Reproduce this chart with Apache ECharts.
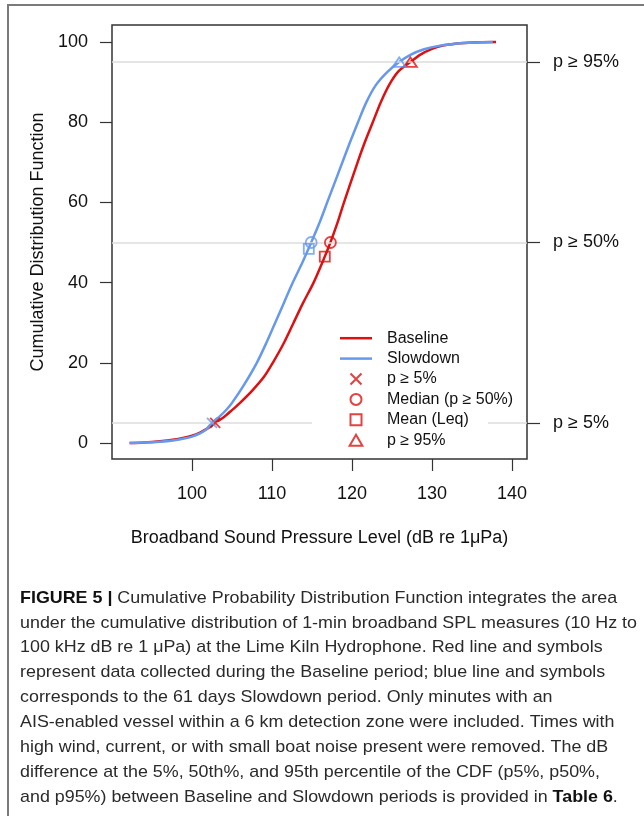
<!DOCTYPE html>
<html><head><meta charset="utf-8">
<script src="https://cdn.jsdelivr.net/npm/echarts@6/dist/echarts.min.js"></script>
<style>html,body{margin:0;padding:0;background:#fff}#c{width:644px;height:816px}</style>
</head><body><div id="c"></div>
<script>
// ---- data ----
const baselineX = [92.2, 94, 96, 97.6, 99, 100, 101, 102, 102.9, 104, 105, 106, 107.5, 109, 110.1, 111.5, 112.7, 113.9, 115.2, 116.6, 117.3, 118.2, 119.0, 120.7, 121.6, 122.6, 123.6, 124.7, 125.8, 127.3, 128.5, 130, 131.5, 133, 135, 138];
const baselineP = [0, 0.15, 0.45, 0.8, 1.3, 1.8, 2.6, 3.7, 5, 6.5, 8.2, 10, 13, 16.5, 20, 25, 30, 35, 40, 46.5, 50, 55, 60, 70, 75, 80, 85, 89.5, 92.7, 95, 96.8, 98.3, 99.2, 99.6, 99.9, 100];
const slowdownX = [92.2, 94, 96, 97.6, 99, 100, 101, 101.8, 102.5, 103.5, 104.3, 105, 106.5, 108.1, 109.3, 110.4, 111.5, 112.6, 113.8, 114.6, 114.9, 115.95, 116.9, 117.85, 118.8, 119.75, 120.75, 121.8, 123.0, 124.4, 125.9, 127.3, 129, 131, 133.5, 135.5, 137.6];
const slowdownP = [0, 0.1, 0.3, 0.6, 1.1, 1.6, 2.4, 3.4, 5, 6.7, 8.3, 10, 14.5, 20, 25, 30, 35, 40, 45, 48.6, 50, 55, 60, 65, 70, 75, 80, 85, 89.3, 92.5, 95, 96.8, 98.2, 99.1, 99.7, 99.9, 100];
const markerNames = ['p \u2265 5%', 'Median (p \u2265 50%)', 'Mean (Leq)', 'p \u2265 95%'];
const baselineMarkX = [102.9, 117.3, 116.6, 127.3];
const baselineMarkP = [5, 50, 46.5, 95];
const slowdownMarkX = [102.5, 114.9, 114.6, 125.9];
const slowdownMarkP = [5, 50, 48.4, 95];
const refLevels = [5, 50, 95];
const refLabels = ['p \u2265 5%', 'p \u2265 50%', 'p \u2265 95%'];
const xTicks = [100, 110, 120, 130, 140];
const yTicks = [0, 20, 40, 60, 80, 100];
const captionLines = [
  '{b|FIGURE 5 |} Cumulative Probability Distribution Function integrates the area',
  'under the cumulative distribution of 1-min broadband SPL measures (10 Hz to',
  '100 kHz dB re 1 \u03bcPa) at the Lime Kiln Hydrophone. Red line and symbols',
  'represent data collected during the Baseline period; blue line and symbols',
  'corresponds to the 61 days Slowdown period. Only minutes with an',
  'AIS-enabled vessel within a 6 km detection zone were included. Times with',
  'high wind, current, or with small boat noise present were removed. The dB',
  'difference at the 5%, 50th%, and 95th percentile of the CDF (p5%, p50%,',
  'and p95%) between Baseline and Slowdown periods is provided in {b|Table 6}.'
];

// ---- style ----
const RED = '#dd1111', BLUE = '#6699ee';
const FONT = '"Liberation Sans", Arial, Helvetica, sans-serif';
const XMIN = 90, XMAX = 141.875, YMIN = -3.99, YMAX = 104.24;
const legendGap = [115, 137];
const symbols = ['path://M0,0L10,10M10,0L0,10', 'circle', 'path://M0,0L10,0L10,10L0,10Z', 'path://M5.5,0L11,9.5L0,9.5Z'];
const symbolSizes = [10, 11, 10, [13, 11]];
const lineIcon = 'path://M0,0L32,0L32,2.5L0,2.5Z';

const zip = (a, b) => a.map((v, i) => [v, b[i]]);

// caption scale to mimic condensed face
const cv = document.createElement('canvas').getContext('2d');
cv.font = '17px ' + FONT;
const capScale = 617 / cv.measureText(captionLines[1]).width;

const chart = echarts.init(document.getElementById('c'));
const markerSeries = markerNames.map((n, i) => ({
  name: n, type: 'scatter', z: 5,
  symbol: symbols[i], symbolSize: symbolSizes[i], symbolKeepAspect: true,
  itemStyle: {color: 'rgba(0,0,0,0)', borderColor: RED, borderWidth: 1.8},
  data: [
    {value: [baselineMarkX[i], baselineMarkP[i]], itemStyle: {borderColor: RED}},
    {value: [slowdownMarkX[i], slowdownMarkP[i]], itemStyle: {borderColor: BLUE}}
  ]
}));

chart.setOption({
  animation: false,
  backgroundColor: '#fff',
  textStyle: {fontFamily: FONT},
  grid: {left: 112, top: 25, width: 415, height: 434, show: true, borderColor: '#333', borderWidth: 1.5, backgroundColor: 'transparent'},
  xAxis: {
    type: 'value', min: XMIN, max: XMAX,
    axisLine: {show: false, onZero: false}, splitLine: {show: false},
    axisTick: {show: true, length: 12, lineStyle: {color: '#333', width: 1.2}, customValues: xTicks},
    axisLabel: {customValues: xTicks, fontSize: 18, color: '#111', margin: 26},
    name: 'Broadband Sound Pressure Level (dB re 1\u03bcPa)', nameLocation: 'middle', nameGap: 70,
    nameTextStyle: {fontSize: 18, color: '#111'}
  },
  yAxis: [{
    type: 'value', min: YMIN, max: YMAX,
    axisLine: {show: false, onZero: false}, splitLine: {show: false},
    axisTick: {show: true, length: 12, lineStyle: {color: '#333', width: 1.2}, customValues: yTicks},
    axisLabel: {customValues: yTicks, fontSize: 18, color: '#111', margin: 24},
    name: 'Cumulative Distribution Function', nameLocation: 'middle', nameGap: 54,
    nameTextStyle: {fontSize: 18, color: '#111'}
  }, {
    type: 'value', position: 'right', min: YMIN, max: YMAX,
    axisLine: {show: false, onZero: false}, splitLine: {show: false},
    axisTick: {show: true, length: 13, lineStyle: {color: '#333', width: 1.2}, customValues: refLevels},
    axisLabel: {customValues: refLevels, fontSize: 18, color: '#111', margin: 26,
      formatter: v => refLabels[refLevels.indexOf(v)] || ''}
  }],
  legend: {
    orient: 'vertical', left: 340, top: 328, padding: 0, itemGap: 0,
    itemWidth: 32, itemHeight: 11, selectedMode: false, symbolKeepAspect: true,
    textStyle: {fontSize: 16, color: '#111', lineHeight: 20.4, padding: [0, 0, 0, 10]},
    data: [
      {name: 'Baseline', icon: lineIcon, itemStyle: {color: RED, borderWidth: 0}},
      {name: 'Slowdown', icon: lineIcon, itemStyle: {color: BLUE, borderWidth: 0}}
    ].concat(markerNames.map(n => ({
      name: n, itemStyle: {color: 'rgba(0,0,0,0)', borderColor: RED, borderWidth: 2}
    })))
  },
  series: [{
    type: 'line', name: 'ref', data: [], z: 1, silent: true,
    markLine: {
      silent: true, symbol: 'none', label: {show: false},
      lineStyle: {color: '#dcdcdc', width: 1.5, type: 'solid'},
      data: [
        {yAxis: refLevels[1]}, {yAxis: refLevels[2]},
        [{coord: [XMIN, refLevels[0]]}, {coord: [legendGap[0], refLevels[0]]}],
        [{coord: [legendGap[1], refLevels[0]]}, {coord: [XMAX, refLevels[0]]}]
      ]
    }
  }, {
    name: 'Baseline', type: 'line', z: 3, symbol: 'none', smooth: 0.3,
    lineStyle: {color: RED, width: 2.5}, itemStyle: {color: RED},
    data: zip(baselineX, baselineP)
  }, {
    name: 'Slowdown', type: 'line', z: 4, symbol: 'none', smooth: 0.3,
    lineStyle: {color: BLUE, width: 2.5}, itemStyle: {color: BLUE},
    data: zip(slowdownX, slowdownP)
  }].concat(markerSeries),
  graphic: [{
    type: 'polyline', silent: true,
    shape: {points: [[8, 816], [8, 5], [644, 5]]},
    style: {stroke: '#7a7a7a', lineWidth: 2, fill: null}
  }].concat(captionLines.map((t, i) => ({
    type: 'text', x: 20, y: 598 + i * 24.9, scaleX: capScale, silent: true,
    style: {text: t, font: '17px ' + FONT, fill: '#2a2a2a', verticalAlign: 'middle',
      rich: {b: {fontWeight: 'bold', fontSize: 17, fontFamily: FONT, fill: '#111'}}}
  })))
});
</script>
</body></html>
